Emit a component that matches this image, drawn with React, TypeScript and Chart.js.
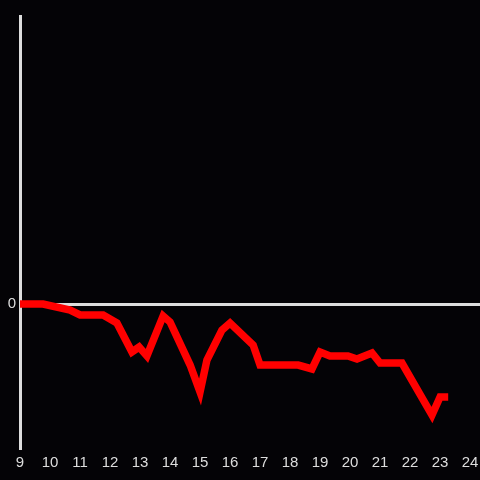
import React, { useEffect, useRef } from "react";
import { Chart, registerables } from "chart.js";

Chart.register(...registerables);

const hours = [9.0, 9.77, 10.67, 11.0, 11.77, 12.23, 12.73, 12.97, 13.23, 13.77, 14.0, 14.67, 15.0, 15.23, 15.73, 16.0, 16.77, 17.0, 18.27, 18.73, 19.0, 19.33, 19.93, 20.23, 20.73, 21.0, 21.73, 22.73, 23.0, 23.27];
const values = [0, 0, -0.42, -0.76, -0.76, -1.32, -3.33, -2.99, -3.61, -0.83, -1.25, -4.24, -6.11, -3.89, -1.81, -1.32, -2.85, -4.24, -4.24, -4.51, -3.33, -3.61, -3.61, -3.82, -3.4, -4.1, -4.1, -7.71, -6.46, -6.46];
const yTickValues = [0];
const xMin = 9;
const xMax = 24.33;
const yMin = -10;
const yMax = 20;

export default function App() {
  const ref = useRef<HTMLCanvasElement | null>(null);
  useEffect(() => {
    if (!ref.current) return;
    const bg = {
      id: "bg",
      beforeDraw(chart: any) {
        const c = chart.ctx;
        c.save();
        c.fillStyle = "#040306";
        c.fillRect(0, 0, chart.width, chart.height);
        c.restore();
      },
    };
    const chart = new Chart(ref.current, {
      type: "line",
      data: {
        datasets: [
          {
            data: hours.map((h, i) => ({ x: h, y: values[i] })),
            borderColor: "#ff0000",
            borderWidth: 7.5,
            pointRadius: 0,
            tension: 0,
            fill: false,
          },
        ],
      },
      options: {
        animation: false,
        responsive: false,
        maintainAspectRatio: false,
        layout: { padding: { top: 16, right: 0, left: 0, bottom: 0 } },
        plugins: { legend: { display: false }, tooltip: { enabled: false } },
        scales: {
          x: {
            type: "linear",
            min: xMin,
            max: xMax,
            afterFit: (s: any) => {
              s.height = 32;
              s.paddingLeft = 0;
              s.paddingRight = 0;
            },
            afterBuildTicks: (s: any) => {
              const t = [];
              for (let v = 9; v <= 24; v++) t.push({ value: v });
              s.ticks = t;
            },
            border: { display: false },
            grid: { display: false, drawTicks: false },
            ticks: {
              color: "#dddddd",
              font: { family: "Liberation Sans", size: 15 },
              padding: 6,
              maxRotation: 0,
              autoSkip: false,
              callback: (v: any) => String(v),
            },
          },
          y: {
            type: "linear",
            min: yMin,
            max: yMax,
            afterFit: (s: any) => {
              s.width = 20;
              s.paddingTop = 0;
              s.paddingBottom = 0;
            },
            afterBuildTicks: (s: any) => {
              s.ticks = yTickValues.map((v) => ({ value: v }));
            },
            border: { display: true, color: "#dddddd", width: 3 },
            grid: { color: "#dddddd", lineWidth: 3, drawTicks: false },
            ticks: {
              color: "#dddddd",
              font: { family: "Liberation Sans", size: 15 },
              padding: 4,
              callback: (v: any) => String(v),
            },
          },
        },
      },
      plugins: [bg],
    });
    return () => chart.destroy();
  }, []);
  return (
    <div style={{ position: "fixed", left: 0, top: 0, width: 480, height: 480, background: "#040306" }}>
      <canvas ref={ref} width={480} height={480} style={{ display: "block" }} />
    </div>
  );
}
